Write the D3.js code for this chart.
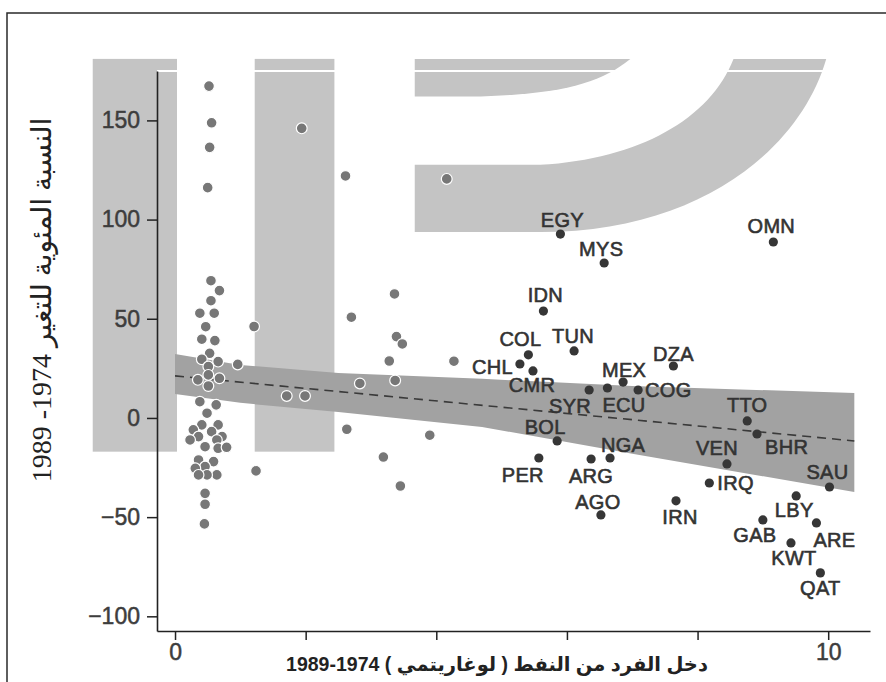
<!DOCTYPE html>
<html>
<head>
<meta charset="utf-8">
<script src="https://cdn.jsdelivr.net/npm/d3@7"></script>
<style>
  body { margin: 0; background: #fff; }
  svg { display: block; }
</style>
</head>
<body>
<div id="chart"></div>
<script>
// oil producers (labelled, dark points)
var oilCodes = ["EGY", "MYS", "IDN", "TUN", "COL", "CHL", "CMR", "SYR", "ECU", "MEX", "COG",
    "BOL", "PER", "ARG", "NGA", "AGO", "DZA", "OMN", "TTO", "BHR", "VEN", "IRQ", "IRN",
    "SAU", "LBY", "GAB", "ARE", "KWT", "QAT"];
var oilIncome = [5.90, 6.57, 5.64, 6.11, 5.41, 5.28, 5.48, 6.34, 6.62, 6.86, 7.09,
    5.85, 5.57, 6.37, 6.66, 6.52, 7.63, 9.16, 8.76, 8.91, 8.45, 8.18, 7.67,
    10.02, 9.51, 9.00, 9.82, 9.43, 9.88];
var oilChange = [92.7, 78.1, 53.9, 33.8, 31.8, 27.2, 23.7, 14.1, 15.1, 18.1, 14.1,
    -11.6, -20.2, -20.7, -20.2, -48.9, 26.2, 88.7, -1.5, -8.1, -23.2, -32.8, -41.8,
    -34.8, -39.3, -51.4, -52.9, -63.0, -78.1];

// other countries (grey points)
var otherIncome = [0.52, 0.56, 0.53, 0.50, 0.55, 0.68, 0.55, 0.38, 0.60, 0.47, 0.41, 0.61,
    0.53, 0.41, 0.66, 0.51, 0.35, 0.51, 0.68, 0.51, 0.38, 0.63, 0.49, 0.41, 0.66, 0.28,
    0.56, 0.36, 0.72, 0.23, 0.64, 0.46, 0.66, 0.79, 0.36, 0.59, 0.46, 0.31, 0.64, 0.49,
    0.36, 0.46, 0.46, 0.45,
    0.96, 1.24, 1.71, 1.99, 2.63, 2.83, 3.28, 3.37, 3.19, 3.45, 3.90, 3.39, 3.48, 1.21,
    2.70, 3.36, 1.94, 2.61, 4.16, 4.27];
var otherChange = [167.3, 148.8, 136.4, 116.1, 69.2, 64.2, 59.1, 52.8, 52.8, 46.0, 39.7, 39.0,
    32.6, 29.6, 28.4, 25.9, 19.2, 21.7, 20.0, 16.1, 8.2, 6.6, 2.4, -3.5, -3.5, -6.0,
    -6.9, -9.4, -9.4, -11.1, -11.1, -14.5, -15.3, -14.8, -21.2, -22.0, -24.5, -25.4, -28.7, -28.7,
    -28.7, -38.0, -43.5, -53.4,
    27.0, -26.7, 11.1, 11.1, -5.7, 17.4, 28.7, 18.9, -19.7, -34.3, -8.7, 41.0, 37.3, 46.1,
    50.8, 62.5, 146.0, 122.0, 120.5, 28.6];

// fitted line and confidence band
var fitX = [0, 10.4];
var fitY = [21.2, -11.6];
var bandX = [0, 1, 2.5, 4.7, 7, 10.4];
var bandUpper = [32.3, 26.7, 22.7, 19.7, 16.1, 12.6];
var bandLower = [12.1, 7.6, 3.0, -4.5, -18.1, -37.3];

var yTicks = [-100, -50, 0, 50, 100, 150];
var xTicks = [0, 2, 4, 6, 8, 10];
var xTickLabels = {0: "0", 10: "10"};

var yTitle = "النسبة المئوية للتغير 1974- 1989";
// (chrome lays the year pair out reversed in rtl svg text)
var xTitle = "دخل الفرد من النفط ( لوغاريتمي ) 1974-1989";

// where each country label sits relative to its dot: [dx, dy, anchor]
var labelPlace = {
    EGY: [2, -14, "middle"], MYS: [-3, -14, "middle"], IDN: [2, -16, "middle"],
    TUN: [-1, -15, "middle"], COL: [-8, -16, "middle"], CHL: [-7, 3, "end"],
    CMR: [-1, 14, "middle"], SYR: [2, 16, "end"], ECU: [-5, 17, "start"],
    MEX: [1, -12, "middle"], COG: [7, 0, "start"], BOL: [-12, -14, "middle"],
    PER: [-16, 17, "middle"], ARG: [0, 17, "middle"], NGA: [13, -13, "middle"],
    AGO: [-3, -13, "middle"], DZA: [0, -12, "middle"], OMN: [-2, -16, "middle"],
    TTO: [0, -16, "middle"], BHR: [8, 13, "start"], VEN: [-10, -16, "middle"],
    IRQ: [8, 0, "start"], IRN: [4, 16, "middle"], SAU: [-2, -15, "middle"],
    LBY: [-2, 14, "middle"], GAB: [-8, 15, "middle"], ARE: [18, 17, "middle"],
    KWT: [3, 15, "middle"], QAT: [0, 15, "middle"]
};

var svgWidth = 886;
var svgHeight = 682;

var svg = d3.select("#chart")
    .append("svg")
    .attr("width", svgWidth)
    .attr("height", svgHeight);

svg.append("rect")
    .attr("width", svgWidth)
    .attr("height", svgHeight)
    .attr("fill", "#fff");

// scales: the axis lines span the full range
var x = d3.scaleLinear().domain([-0.276, 10.64]).range([157, 870]);
var y = d3.scaleLinear().domain([-107.4, 174.9]).range([631, 71]);

// outer frame
svg.append("rect")
    .attr("x", 7)
    .attr("y", 13)
    .attr("width", 900)
    .attr("height", 700)
    .attr("fill", "none")
    .attr("stroke", "#2a2a2a")
    .attr("stroke-width", 1.5);

// grey "IP" watermark printed behind the plot (in data units)
var wm = svg.append("g").attr("fill", "#c4c4c4");
wm.append("rect")
    .attr("x", x(-1.26)).attr("y", y(181))
    .attr("width", x(0.03) - x(-1.26)).attr("height", y(-17) - y(181));
wm.append("rect")
    .attr("x", x(1.22)).attr("y", y(181))
    .attr("width", x(2.44) - x(1.22)).attr("height", y(-17) - y(181));

var p1 = d3.path();
p1.moveTo(x(3.67), y(181));
p1.lineTo(x(6.97), y(181));
p1.bezierCurveTo(x(6.51), y(168.6), x(5.90), y(163), x(4.52), y(162));
p1.lineTo(x(3.67), y(162));
p1.closePath();
wm.append("path").attr("d", p1.toString());

var p2 = d3.path();
p2.moveTo(x(3.67), y(127.6));
p2.lineTo(x(5.59), y(127.6));
p2.bezierCurveTo(x(7.12), y(130.6), x(8.19), y(150.9), x(8.55), y(181));
p2.lineTo(x(9.97), y(181));
p2.bezierCurveTo(x(9.57), y(135.7), x(8.04), y(93.7), x(5.59), y(93.7));
p2.lineTo(x(3.67), y(93.7));
p2.closePath();
wm.append("path").attr("d", p2.toString());

// white top edge of the plot region
svg.append("line")
    .attr("x1", x(-0.276)).attr("x2", x(10.05))
    .attr("y1", y(174.9)).attr("y2", y(174.9))
    .attr("stroke", "#fff")
    .attr("stroke-width", 2);

// confidence band
var bandData = bandX.map(function(d, i) { return {x: d, hi: bandUpper[i], lo: bandLower[i]}; });
svg.append("path")
    .datum(bandData)
    .attr("fill", "#a2a2a2")
    .attr("d", d3.area()
        .x(d => x(d.x))
        .y0(d => y(d.lo))
        .y1(d => y(d.hi)));

// fitted line
var fitData = fitX.map(function(d, i) { return {x: d, y: fitY[i]}; });
svg.append("path")
    .datum(fitData)
    .attr("fill", "none")
    .attr("stroke", "#3a3a3a")
    .attr("stroke-width", 1.6)
    .attr("stroke-dasharray", "9,6")
    .attr("d", d3.line().x(d => x(d.x)).y(d => y(d.y)));

// other countries
var others = otherIncome.map(function(d, i) { return {x: d, y: otherChange[i]}; });
svg.append("g")
    .selectAll("circle")
    .data(others)
    .enter()
    .append("circle")
    .attr("cx", d => x(d.x))
    .attr("cy", d => y(d.y))
    .attr("r", 5.4)
    .attr("fill", "#777")
    .attr("stroke", "#fff")
    .attr("stroke-width", 1.2);

// oil countries
var oil = oilCodes.map(function(c, i) { return {code: c, x: oilIncome[i], y: oilChange[i]}; });
svg.append("g")
    .selectAll("circle")
    .data(oil)
    .enter()
    .append("circle")
    .attr("cx", d => x(d.x))
    .attr("cy", d => y(d.y))
    .attr("r", 4.6)
    .attr("fill", "#363636");

svg.append("g")
    .selectAll("text")
    .data(oil)
    .enter()
    .append("text")
    .attr("x", d => x(d.x) + labelPlace[d.code][0])
    .attr("y", d => y(d.y) + labelPlace[d.code][1])
    .attr("text-anchor", d => labelPlace[d.code][2])
    .attr("dominant-baseline", "central")
    .style("font-family", "'Liberation Sans', Arial, sans-serif")
    .style("font-size", "20px")
    .style("letter-spacing", "0.3px")
    .attr("fill", "#333")
    .attr("stroke", "#333")
    .attr("stroke-width", 0.6)
    .text(d => d.code);

// axes
var leftAxis = d3.axisLeft(y)
    .tickValues(yTicks)
    .tickSize(10)
    .tickSizeOuter(0)
    .tickPadding(7);
var bottomAxis = d3.axisBottom(x)
    .tickValues(xTicks)
    .tickFormat(d => xTickLabels[d] || "")
    .tickSize(9)
    .tickSizeOuter(0)
    .tickPadding(4);

var yAxisG = svg.append("g")
    .attr("transform", `translate(${x(-0.276)}, 0)`)
    .call(leftAxis);
var xAxisG = svg.append("g")
    .attr("transform", `translate(0, ${y(-107.4)})`)
    .call(bottomAxis);

[yAxisG, xAxisG].forEach(function(g) {
    g.select(".domain").attr("stroke", "#222").attr("stroke-width", 1.6);
    g.selectAll(".tick line").attr("stroke", "#222").attr("stroke-width", 1.5);
    g.selectAll(".tick text")
        .attr("fill", "#3d3d3d")
        .attr("stroke", "#3d3d3d")
        .attr("stroke-width", 0.5)
        .style("font-family", "'Liberation Sans', Arial, sans-serif")
        .style("font-size", "23px");
});

// axis titles
svg.append("text")
    .attr("transform", "translate(51, 300) rotate(-90)")
    .attr("text-anchor", "middle")
    .attr("direction", "rtl")
    .style("font-family", "'Liberation Serif', 'DejaVu Sans', serif")
    .style("font-size", "28px")
    .attr("fill", "#222")
    .text(yTitle);

svg.append("text")
    .attr("x", 497)
    .attr("y", 671)
    .attr("text-anchor", "middle")
    .attr("direction", "rtl")
    .style("font-family", "'Liberation Sans', 'DejaVu Sans', sans-serif")
    .style("font-size", "19.5px")
    .style("font-weight", "bold")
    .attr("fill", "#222")
    .text(xTitle);
</script>
</body>
</html>
